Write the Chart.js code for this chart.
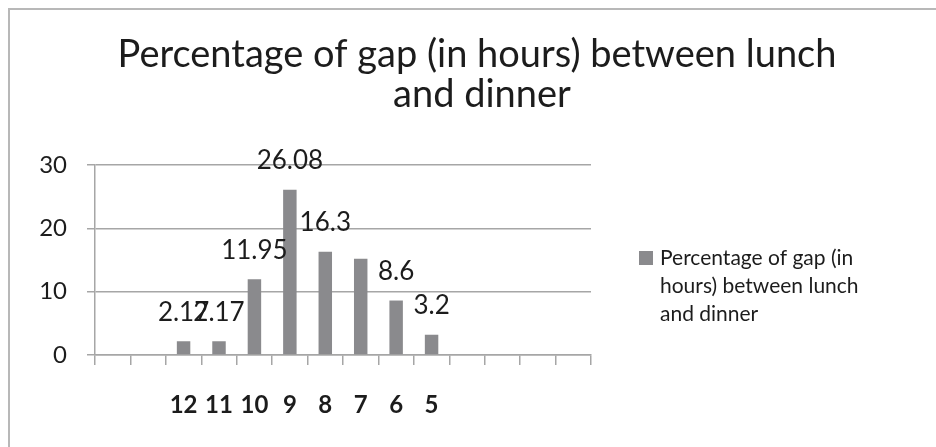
<!DOCTYPE html>
<html>
<head>
<meta charset="utf-8">
<script src="https://cdn.jsdelivr.net/npm/chart.js@4.4.0/dist/chart.umd.min.js"></script>
<style>
html,body{margin:0;padding:0;background:#fff;}
#wrap{width:936px;height:447px;position:relative;}
</style>
</head>
<body>
<div id="wrap"><canvas id="c" width="936" height="447"></canvas></div>
<script>
const titleLines = ['Percentage of gap (in hours) between lunch', 'and dinner'];
const seriesLabel = 'Percentage of gap (in hours) between lunch and dinner';
const categories = ['', '', '12', '11', '10', '9', '8', '7', '6', '5', '', '', '', ''];
const values = [null, null, 2.17, 2.17, 11.95, 26.08, 16.3, 15.2, 8.6, 3.2, null, null, null, null];
const valueLabels = ['', '', '2.17', '2.17', '11.95', '26.08', '16.3', '', '8.6', '3.2', '', '', '', ''];
const yTicks = [0, 10, 20, 30];

const BAR = '#8a8a8d';
const TEXT = '#1c1c1c';
const GRID = '#a6a6a6';

const framePlugin = {
  id: 'frame',
  beforeDraw(chart) {
    const ctx = chart.ctx;
    ctx.save();
    ctx.fillStyle = '#fff';
    ctx.fillRect(0, 0, chart.width, chart.height);
    ctx.strokeStyle = '#b8b8b8';
    ctx.lineWidth = 2;
    ctx.strokeRect(9, 9, chart.width + 20, chart.height + 20);
    ctx.restore();
  }
};

const titlePlugin = {
  id: 'customTitle',
  afterDraw(chart) {
    const ctx = chart.ctx;
    ctx.save();
    ctx.fillStyle = TEXT;
    ctx.font = '38px Lato';
    ctx.textAlign = 'center';
    ctx.textBaseline = 'alphabetic';
    ctx.fillText(titleLines[0], 477, 67);
    ctx.fillText(titleLines[1], 482, 107);
    ctx.restore();
  }
};

const valueLabelPlugin = {
  id: 'valueLabels',
  afterDatasetsDraw(chart) {
    const ctx = chart.ctx;
    const meta = chart.getDatasetMeta(0);
    ctx.save();
    ctx.fillStyle = TEXT;
    ctx.font = '26px Lato';
    ctx.textAlign = 'center';
    ctx.textBaseline = 'middle';
    meta.data.forEach((bar, i) => {
      const t = valueLabels[i];
      if (!t || values[i] == null) return;
      ctx.fillText(t, bar.x, bar.y - 29);
    });
    ctx.restore();
  }
};

const legendPlugin = {
  id: 'customLegend',
  afterDraw(chart) {
    const ctx = chart.ctx;
    const ds = chart.data.datasets[0];
    ctx.save();
    ctx.font = '21px Lato';
    const maxW = 205;
    const words = ds.label.split(' ');
    const lines = [];
    let cur = '';
    words.forEach(w => {
      const test = cur ? cur + ' ' + w : w;
      if (ctx.measureText(test).width > maxW && cur) { lines.push(cur); cur = w; }
      else cur = test;
    });
    if (cur) lines.push(cur);
    ctx.fillStyle = ds.backgroundColor;
    ctx.fillRect(639, 251, 14, 14);
    ctx.fillStyle = TEXT;
    ctx.textAlign = 'left';
    ctx.textBaseline = 'middle';
    lines.forEach((l, i) => ctx.fillText(l, 660, 258 + i * 28));
    ctx.restore();
  }
};

new Chart(document.getElementById('c'), {
  type: 'bar',
  data: {
    labels: categories,
    datasets: [{
      label: seriesLabel,
      data: values,
      backgroundColor: BAR,
      borderWidth: 0,
      barPercentage: 0.38,
      categoryPercentage: 1.0
    }]
  },
  options: {
    responsive: false,
    animation: false,
    devicePixelRatio: 1,
    layout: { padding: { left: 0, right: 345, top: 165, bottom: 0 } },
    plugins: {
      legend: { display: false },
      title: { display: false },
      tooltip: { enabled: false }
    },
    scales: {
      y: {
        min: 0,
        max: 30,
        afterFit(s) { s.width = 95; },
        afterBuildTicks(s) { s.ticks = yTicks.map(v => ({ value: v })); },
        grid: { color: GRID, lineWidth: 1.5, tickLength: 8, drawTicks: true },
        border: { display: true, color: GRID, width: 1.5 },
        ticks: { color: TEXT, font: { family: 'Lato', size: 24 }, padding: 20 }
      },
      x: {
        offset: true,
        afterFit(s) { s.height = 92; },
        grid: { display: true, drawOnChartArea: false, drawTicks: true, tickLength: 10, color: GRID, lineWidth: 1.5, offset: true },
        border: { display: true, color: GRID, width: 1.5 },
        ticks: { color: TEXT, font: { family: 'Lato', size: 24, weight: 'bold' }, padding: 26, maxRotation: 0, autoSkip: false }
      }
    }
  },
  plugins: [framePlugin, titlePlugin, valueLabelPlugin, legendPlugin]
});
</script>
</body>
</html>
